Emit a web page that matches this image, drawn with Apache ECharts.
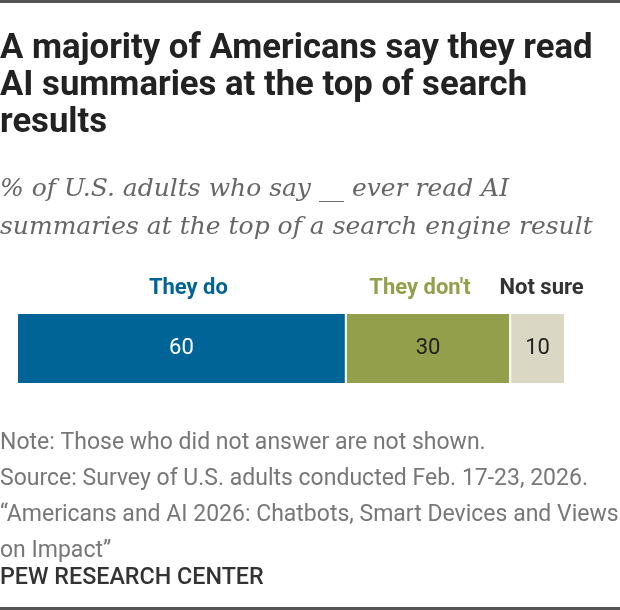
<!DOCTYPE html>
<html>
<head>
<meta charset="utf-8">
<script src="https://cdn.jsdelivr.net/npm/echarts@6.0.0/dist/echarts.min.js"></script>
<style>
  html, body { margin: 0; padding: 0; background: #fff; }
  #chart { width: 620px; height: 610px; }
</style>
</head>
<body>
<div id="chart"></div>
<script>
// Data
const categories = ['All U.S. adults'];
const seriesNames = ['They do', "They don't", 'Not sure'];
const seriesValues = [[60], [30], [10]];
const seriesColors = ['#006496', '#949f4b', '#dad7c5'];
const nameColors = ['#006496', '#949f4b', '#333333'];
const valueColors = ['#ffffff', '#222222', '#222222'];
// small nudges of the segment names, as in the original layout
const nameNudge = [7, -8, 4];

const titleText = 'A majority of Americans say they read\nAI summaries at the top of search\nresults';
const subtitleText = '% of U.S. adults who say __ ever read AI\nsummaries at the top of a search engine result';
const noteText = 'Note: Those who did not answer are not shown.\n' +
  'Source: Survey of U.S. adults conducted Feb. 17-23, 2026.\n' +
  '\u201cAmericans and AI 2026: Chatbots, Smart Devices and Views\n' +
  'on Impact\u201d';
const creditText = 'PEW RESEARCH CENTER';

const sans = 'Roboto, "Noto Sans", sans-serif';

const chart = echarts.init(document.getElementById('chart'), null, { renderer: 'canvas' });

const series = seriesNames.map((name, i) => ({
  name: name,
  type: 'bar',
  stack: 'total',
  barWidth: 71,
  data: seriesValues[i],
  itemStyle: { color: seriesColors[i], borderColor: '#fff', borderWidth: 1 },
  label: {
    show: true,
    position: 'inside',
    color: valueColors[i],
    fontFamily: sans,
    fontSize: 22,
    formatter: '{c}'
  },
  silent: true
}));

chart.setOption({
  animation: false,
  backgroundColor: '#fff',
  grid: { left: 17, right: 55, top: 313, height: 71 },
  xAxis: { type: 'value', min: 0, max: 100, show: false },
  yAxis: { type: 'category', data: categories, show: false },
  series: series
});

// Segment names above the bar, placed through the value axis
let start = 0;
const nameLabels = seriesNames.map((name, i) => {
  const v = seriesValues[i][0];
  const mid = chart.convertToPixel({ gridIndex: 0 }, [start + v / 2, 0]);
  start += v;
  return {
    type: 'text',
    x: mid[0] + nameNudge[i],
    y: 288,
    style: {
      text: name,
      font: 'bold 22px ' + sans,
      fill: nameColors[i],
      align: 'center',
      verticalAlign: 'middle'
    }
  };
});

chart.setOption({
  graphic: [
    { type: 'rect', shape: { x: 0, y: 0, width: 620, height: 3 }, style: { fill: '#555' } },
    { type: 'rect', shape: { x: 0, y: 607, width: 620, height: 3 }, style: { fill: '#555' } },
    {
      type: 'text', x: 0, y: 31,
      style: { text: titleText, font: 'bold 34.7px ' + sans, fill: '#222', lineHeight: 37 }
    },
    {
      type: 'text', x: 0, y: 170,
      style: { text: subtitleText, font: 'italic 25px "DejaVu Serif", serif', fill: '#666', lineHeight: 38 }
    },
    {
      type: 'text', x: 0, y: 425,
      style: { text: noteText, font: '23px ' + sans, fill: '#777', lineHeight: 36 }
    },
    {
      type: 'text', x: 0, y: 567,
      style: { text: creditText, font: '500 23.3px ' + sans, fill: '#333' }
    }
  ].concat(nameLabels)
});

window.addEventListener('resize', () => chart.resize());
</script>
</body>
</html>
